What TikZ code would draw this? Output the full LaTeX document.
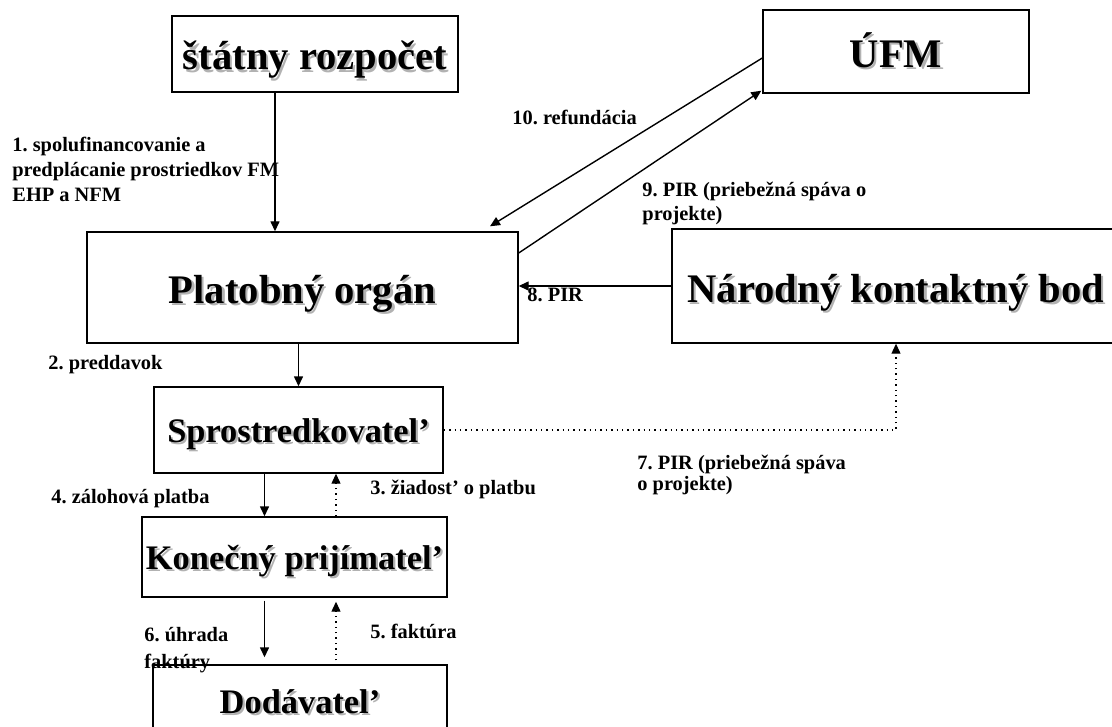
\documentclass[tikz,border=0pt]{standalone}
\usepackage{fontspec}
\setmainfont{Liberation Serif}
\usetikzlibrary{arrows.meta}
\frenchspacing
\newcommand\shd[1]{\makebox[0pt][l]{\hspace{1.1pt}\raisebox{-1.1pt}{\textcolor{black!30}{#1}}}#1}
\tikzset{
  box/.style={draw,line width=0.7pt,inner sep=0pt,text height=16pt,text depth=0pt,font=\bfseries\fontsize{20.3}{24}\selectfont},
  sbox/.style={box,text height=12.5pt,font=\bfseries\fontsize{17.2}{20}\selectfont},
  lbl/.style={anchor=north west,inner sep=0pt,align=left,font=\bfseries\fontsize{10.2}{12}\selectfont},
  arr/.style={-{Triangle[width=4.5pt,length=5pt]},line width=0.7pt},
  dotarr/.style={arr,dotted,line width=0.6pt}
}
\begin{document}
\begin{tikzpicture}[x=0.5pt,y=-0.5pt]
\useasboundingbox (0,0) rectangle (1112,727);
\node[box,minimum width=143pt,minimum height=38pt] (rozp) at (315,54) {\shd{štátny rozpočet}};
\node[box,minimum width=133pt,minimum height=41.5pt] (ufm) at (896,51.5) {\shd{ÚFM}};
\node[box,minimum width=215.5pt,minimum height=55.5pt] (plat) at (302.5,287.5) {\shd{Platobný orgán}};
\node[box,minimum width=224pt,minimum height=57pt] (nat) at (896,286) {\shd{Národný kontaktný bod}};
\node[sbox,minimum width=144.5pt,minimum height=43pt] (spros) at (298.5,430) {\shd{Sprostredkovatel’}};
\node[sbox,minimum width=152.5pt,minimum height=40pt] (kon) at (294.5,557) {\shd{Konečný prijímatel’}};
\node[sbox,minimum width=147pt,minimum height=35.5pt] (dod) at (300,700.5) {\shd{Dodávatel’}};
% toky
\draw[arr] ([xshift=-20pt]rozp.south) -- ([xshift=-20pt]rozp.south |- plat.north);
\draw[arr] (spros.north |- plat.south) -- (spros.north);
\draw[arr] ([xshift=-17pt]spros.south) -- ([xshift=-17pt]spros.south |- kon.north);
\draw[dotarr] ([xshift=18.75pt]spros.south |- kon.north) -- ([xshift=18.75pt]spros.south);
\draw[arr,shorten <=1.5pt,shorten >=3.5pt] ([xshift=-15pt]kon.south) -- ([xshift=-15pt]kon.south |- dod.north);
\draw[dotarr,shorten <=2pt,shorten >=2pt] ([xshift=20.75pt]kon.south |- dod.north) -- ([xshift=20.75pt]kon.south);
\draw[dotarr] (spros.east) -| (nat.south);
\draw[arr] (nat.west) -- (nat.west -| plat.east);
\draw[arr] ([yshift=17.25pt]plat.east) -- ([shift={(-0.5pt,1.5pt)}]ufm.south west);
\draw[arr] ([yshift=-3.25pt]ufm.west) -- ([xshift=93.75pt,yshift=2.5pt]plat.north);
% popisy
\node[lbl,font=\bfseries\fontsize{10.2}{12.5}\selectfont] (l1) at (12,137) {1. spolufinancovanie a\\predplácanie prostriedkov FM\\EHP a NFM};
\node[lbl] (l2) at (48,355) {2. preddavok};
\node[lbl] (l3) at (370,480) {3. žiadost’ o platbu};
\node[lbl] (l4) at (51,489) {4. zálohová platba};
\node[lbl] (l5) at (370,624) {5. faktúra};
\node[lbl,font=\bfseries\fontsize{10.2}{13.3}\selectfont] (l6) at (144,627) {6. úhrada\\faktúry};
\node[lbl,font=\bfseries\fontsize{10.2}{10.5}\selectfont] (l7) at (637,455) {7. PIR (priebežná spáva\\o projekte)};
\node[lbl] (l8) at (527,288) {8. PIR};
\node[lbl] (l9) at (642,182) {9. PIR (priebežná spáva o\\projekte)};
\node[lbl] (l10) at (512,110) {10. refundácia};
\end{tikzpicture}
\end{document}
